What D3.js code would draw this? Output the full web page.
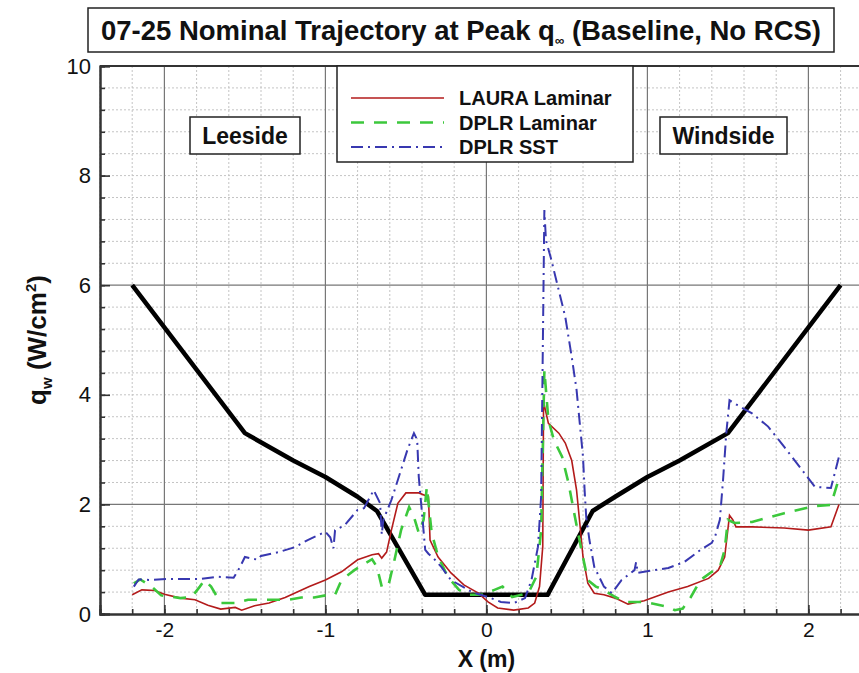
<!DOCTYPE html>
<html>
<head>
<meta charset="utf-8">
<script src="https://cdn.jsdelivr.net/npm/d3@7"></script>
<style>
  body { margin: 0; background: #fff; }
  svg { display: block; font-family: "Liberation Sans", Arial, sans-serif; }
</style>
</head>
<body>
<div id="chart"></div>
<script>
// Surface heating along X: [X (m), q_w (W/cm^2)]
const lauraLaminar = [
  [-2.2,0.35],[-2.14,0.44],[-2.06,0.43],[-2.0,0.36],[-1.9,0.29],[-1.81,0.26],[-1.73,0.16],
  [-1.65,0.09],[-1.56,0.12],[-1.52,0.07],[-1.44,0.15],[-1.35,0.2],[-1.25,0.3],[-1.1,0.5],
  [-1.0,0.62],[-0.9,0.77],[-0.8,0.99],[-0.71,1.08],[-0.67,1.1],[-0.65,1.02],[-0.62,1.13],
  [-0.59,1.53],[-0.55,2.02],[-0.5,2.21],[-0.42,2.21],[-0.36,2.14],[-0.35,1.35],[-0.3,1.04],
  [-0.22,0.75],[-0.14,0.53],[-0.05,0.38],[0.01,0.22],[0.07,0.11],[0.17,0.07],[0.26,0.11],
  [0.3,0.2],[0.33,0.5],[0.35,1.23],[0.355,3.87],[0.385,3.48],[0.45,3.3],[0.49,3.12],
  [0.53,2.8],[0.56,2.26],[0.58,1.66],[0.6,1.04],[0.63,0.56],[0.67,0.38],[0.73,0.35],
  [0.8,0.29],[0.88,0.18],[0.98,0.24],[1.13,0.4],[1.25,0.5],[1.38,0.65],[1.44,0.8],
  [1.48,1.04],[1.51,1.8],[1.53,1.72],[1.55,1.59],[1.65,1.59],[1.85,1.57],[2.0,1.53],
  [2.14,1.59],[2.19,2.0]
];

const dplrLaminar = [
  [-2.19,0.56],[-2.15,0.63],[-2.08,0.5],[-2.02,0.34],[-1.9,0.29],[-1.83,0.31],[-1.78,0.5],
  [-1.75,0.62],[-1.71,0.5],[-1.65,0.2],[-1.56,0.2],[-1.48,0.26],[-1.42,0.26],[-1.32,0.26],
  [-1.23,0.26],[-1.15,0.3],[-1.07,0.3],[-0.98,0.35],[-0.94,0.35],[-0.9,0.62],[-0.82,0.8],
  [-0.71,1.0],[-0.68,0.86],[-0.65,0.5],[-0.61,0.5],[-0.57,1.0],[-0.53,1.53],[-0.48,1.95],
  [-0.45,1.77],[-0.42,1.48],[-0.39,1.72],[-0.37,2.32],[-0.34,1.48],[-0.3,1.05],[-0.24,0.68],
  [-0.17,0.44],[-0.11,0.35],[-0.03,0.35],[0.05,0.44],[0.1,0.5],[0.16,0.31],[0.26,0.38],
  [0.31,0.68],[0.34,1.53],[0.36,4.45],[0.385,3.54],[0.42,3.17],[0.47,2.87],[0.51,2.39],
  [0.55,1.77],[0.59,1.17],[0.63,0.62],[0.68,0.5],[0.73,0.44],[0.8,0.31],[0.86,0.22],
  [0.96,0.22],[1.02,0.2],[1.13,0.13],[1.17,0.07],[1.22,0.1],[1.27,0.31],[1.33,0.62],
  [1.4,0.77],[1.45,0.86],[1.48,1.17],[1.5,1.72],[1.54,1.66],[1.65,1.68],[1.85,1.84],
  [2.04,1.97],[2.14,1.99],[2.19,2.48]
];

const dplrSST = [
  [-2.19,0.5],[-2.16,0.63],[-2.08,0.62],[-1.98,0.64],[-1.88,0.64],[-1.77,0.64],[-1.67,0.68],
  [-1.57,0.66],[-1.53,0.86],[-1.5,1.04],[-1.42,0.99],[-1.4,1.06],[-1.29,1.13],[-1.19,1.22],
  [-1.11,1.35],[-1.0,1.5],[-0.97,1.4],[-0.95,1.2],[-0.94,1.53],[-0.88,1.62],[-0.8,1.9],
  [-0.76,1.93],[-0.7,2.26],[-0.66,2.02],[-0.65,1.45],[-0.64,1.72],[-0.59,2.08],[-0.53,2.63],
  [-0.49,3.0],[-0.45,3.3],[-0.43,3.18],[-0.42,2.5],[-0.4,1.84],[-0.38,1.17],[-0.36,1.1],
  [-0.32,0.99],[-0.28,0.86],[-0.22,0.62],[-0.09,0.4],[0.01,0.31],[0.09,0.22],[0.17,0.2],
  [0.24,0.29],[0.28,0.62],[0.32,1.22],[0.34,2.14],[0.36,7.37],[0.37,6.82],[0.4,6.5],
  [0.45,5.9],[0.49,5.42],[0.53,4.69],[0.56,4.09],[0.58,3.48],[0.6,2.87],[0.61,2.26],
  [0.62,1.77],[0.64,1.35],[0.67,0.86],[0.73,0.5],[0.78,0.38],[0.84,0.62],[0.92,0.8],
  [0.93,0.95],[0.94,0.75],[0.98,0.77],[1.13,0.84],[1.23,0.95],[1.33,1.17],[1.4,1.3],
  [1.42,1.41],[1.45,1.72],[1.47,2.45],[1.49,3.3],[1.51,3.9],[1.56,3.81],[1.65,3.66],
  [1.75,3.42],[1.85,3.05],[1.96,2.63],[2.04,2.32],[2.14,2.3],[2.19,2.87]
];

// heavy black reference curve
const limitLine = [
  [-2.2,6],[-1.5,3.3],[-1.2,2.8],[-1.0,2.5],[-0.8,2.14],[-0.68,1.88],[-0.38,0.35],
  [0.38,0.35],[0.66,1.88],[0.8,2.14],[1.0,2.5],[1.2,2.8],[1.5,3.3],[2.2,6]
];

const seriesNames = ["LAURA Laminar", "DPLR Laminar", "DPLR SST"];
const xTicks = [-2, -1, 0, 1, 2];
const yTicks = [0, 2, 4, 6, 8, 10];
const yMajorGrid = [2, 6];

const width = 859, height = 673;
const x = d3.scaleLinear().domain([-2.4, 2.4]).range([100, 872.8]);
const y = d3.scaleLinear().domain([0, 10]).range([614, 66]);

const svg = d3.select("#chart").append("svg")
  .attr("width", width).attr("height", height)
  .style("overflow", "hidden");

svg.append("defs").append("clipPath").attr("id", "plot")
  .append("rect").attr("x", 100).attr("y", 66).attr("width", 772.8).attr("height", 548);

// grid: dotted minor, solid majors
const grid = svg.append("g");
d3.range(-24, 25, 2).map(d => d / 10).filter(d => !xTicks.includes(d)).forEach(d => {
  grid.append("line").attr("x1", x(d)).attr("x2", x(d)).attr("y1", y(10)).attr("y2", y(0))
    .attr("stroke", "#c4c4c4").attr("stroke-dasharray", "2,2");
});
d3.range(4, 100, 4).map(d => d / 10).filter(d => !yMajorGrid.includes(d)).forEach(d => {
  grid.append("line").attr("x1", x(-2.4)).attr("x2", x(2.4)).attr("y1", y(d)).attr("y2", y(d))
    .attr("stroke", "#c4c4c4").attr("stroke-dasharray", "2,2");
});
xTicks.forEach(d => {
  grid.append("line").attr("x1", x(d)).attr("x2", x(d)).attr("y1", y(10)).attr("y2", y(0))
    .attr("stroke", "#777").attr("stroke-width", 1.2);
});
yMajorGrid.forEach(d => {
  grid.append("line").attr("x1", x(-2.4)).attr("x2", x(2.4)).attr("y1", y(d)).attr("y2", y(d))
    .attr("stroke", "#777").attr("stroke-width", 1.2);
});

// axes
const xAxis = svg.append("g").attr("transform", `translate(0,${y(0)})`)
  .call(d3.axisBottom(x).tickValues(xTicks).tickSize(-9).tickPadding(8).tickFormat(d => String(d)));
const xMinor = svg.append("g").attr("transform", `translate(0,${y(0)})`)
  .call(d3.axisBottom(x).tickValues(d3.range(-24, 25, 2).map(d => d / 10)).tickSize(-5).tickFormat(""));
const yAxis = svg.append("g").attr("transform", `translate(${x(-2.4)},0)`)
  .call(d3.axisLeft(y).tickValues(yTicks).tickSize(-10).tickPadding(9));
const yMinor = svg.append("g").attr("transform", `translate(${x(-2.4)},0)`)
  .call(d3.axisLeft(y).tickValues(d3.range(0, 101, 4).map(d => d / 10)).tickSize(-5).tickFormat(""));
[xAxis, xMinor, yAxis, yMinor].forEach(g => {
  g.select(".domain").attr("stroke", "#333").attr("stroke-width", 2);
  g.selectAll(".tick line").attr("stroke", "#333").attr("stroke-width", 1.6);
});
xAxis.selectAll("text").attr("font-size", 21).attr("fill", "#111").attr("font-family", "Liberation Sans, Arial");
yAxis.selectAll("text").attr("font-size", 22).attr("fill", "#111").attr("font-family", "Liberation Sans, Arial");
// top frame
svg.append("line").attr("x1", x(-2.4)).attr("x2", x(2.4)).attr("y1", y(10)).attr("y2", y(10))
  .attr("stroke", "#333").attr("stroke-width", 2);

// curves
const line = d3.line().x(d => x(d[0])).y(d => y(d[1]));
const plot = svg.append("g").attr("clip-path", "url(#plot)");
const styles = [
  { data: lauraLaminar, color: "#b31b1b", w: 1.6, dash: null },
  { data: dplrLaminar, color: "#3cc83c", w: 2.6, dash: "13,10" },
  { data: dplrSST, color: "#3838b0", w: 2, dash: "12,5,2,5" }
];
plot.append("path").datum(limitLine).attr("d", line)
  .attr("fill", "none").attr("stroke", "#000").attr("stroke-width", 4.5).attr("stroke-linejoin", "round");
styles.forEach(s => {
  plot.append("path").datum(s.data).attr("d", line)
    .attr("fill", "none").attr("stroke", s.color).attr("stroke-width", s.w)
    .attr("stroke-dasharray", s.dash);
});

// legend
const legend = svg.append("g");
legend.append("rect").attr("x", 337).attr("y", 66).attr("width", 296).attr("height", 96)
  .attr("fill", "#fff").attr("stroke", "#222").attr("stroke-width", 1.5);
styles.forEach((s, i) => {
  const ly = 98 + i * 24.5;
  legend.append("line").attr("x1", 351).attr("x2", 444).attr("y1", ly).attr("y2", ly)
    .attr("stroke", s.color).attr("stroke-width", s.w).attr("stroke-dasharray", s.dash);
  legend.append("text").attr("x", 459).attr("y", ly + 7).text(seriesNames[i])
    .attr("font-size", 20).attr("font-weight", "bold").attr("fill", "#111");
});

// side labels
function boxLabel(label, x0, x1) {
  svg.append("rect").attr("x", x0).attr("y", 117).attr("width", x1 - x0).attr("height", 37)
    .attr("fill", "#fff").attr("stroke", "#222").attr("stroke-width", 1.5);
  svg.append("text").attr("x", (x0 + x1) / 2).attr("y", 144).attr("text-anchor", "middle")
    .attr("font-size", 23).attr("font-weight", "bold").attr("fill", "#111").text(label);
}
boxLabel("Leeside", 190, 300);
boxLabel("Windside", 660, 787);

// title
svg.append("rect").attr("x", 88).attr("y", 8).attr("width", 746).attr("height", 44)
  .attr("fill", "#fff").attr("stroke", "#222").attr("stroke-width", 1.5);
const title = svg.append("text").attr("x", 461).attr("y", 40).attr("text-anchor", "middle")
  .attr("font-size", 27).attr("font-weight", "bold").attr("fill", "#111")
  .attr("textLength", 720).attr("lengthAdjust", "spacingAndGlyphs");
title.append("tspan").text("07-25 Nominal Trajectory at Peak q");
title.append("tspan").attr("dy", 5).attr("font-size", 13).text("∞");
title.append("tspan").attr("dy", -5).text(" (Baseline, No RCS)");

// axis titles
svg.append("text").attr("x", x(0)).attr("y", 667).attr("text-anchor", "middle")
  .attr("font-size", 23).attr("font-weight", "bold").attr("fill", "#111").text("X (m)");
const yl = svg.append("text").attr("transform", "translate(46,340) rotate(-90)")
  .attr("text-anchor", "middle").attr("font-size", 26).attr("font-weight", "bold").attr("fill", "#111");
yl.append("tspan").text("q");
yl.append("tspan").attr("dy", 6).attr("font-size", 15).text("w");
yl.append("tspan").attr("dy", -6).text(" (W/cm");
yl.append("tspan").attr("dy", -10).attr("font-size", 15).text("2");
yl.append("tspan").attr("dy", 10).text(")");
</script>
</body>
</html>
